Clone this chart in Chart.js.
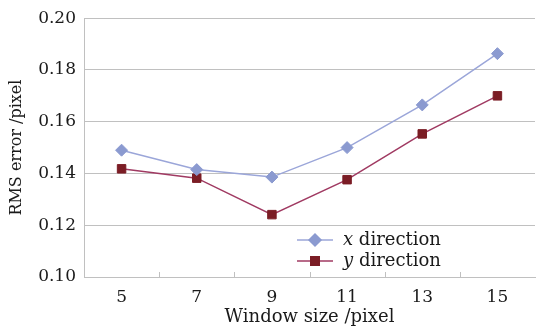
<!DOCTYPE html>
<html>
<head>
<meta charset="utf-8">
<script src="https://cdn.jsdelivr.net/npm/chart.js@4.4.0/dist/chart.umd.min.js"></script>
<style>
  html, body { margin: 0; padding: 0; background: #fff; }
  #wrap { width: 542px; height: 328px; }
</style>
</head>
<body>
<div id="wrap"><canvas id="rmsChart" width="542" height="328"></canvas></div>
<script>
const windowSizes = ['5', '7', '9', '11', '13', '15'];
const xDirection = [0.149, 0.1415, 0.1386, 0.150, 0.1665, 0.1863];
const yDirection = [0.1418, 0.1382, 0.1241, 0.1376, 0.1553, 0.170];
const yTicks = [0.10, 0.12, 0.14, 0.16, 0.18, 0.20];

const serif = '"DejaVu Serif", "Liberation Serif", serif';
const gridColor = '#c0c0c0';
const textColor = '#1a1a1a';

// small tick marks between categories, drawn upward from the x axis
const innerTicks = {
    id: 'innerTicks',
    afterDraw(chart) {
        const xs = chart.scales.x;
        const ctx = chart.ctx;
        const bottom = chart.chartArea.bottom;
        ctx.save();
        ctx.strokeStyle = gridColor;
        ctx.lineWidth = 1;
        for (let i = 0; i < windowSizes.length - 1; i++) {
            const px = Math.round((xs.getPixelForValue(i) + xs.getPixelForValue(i + 1)) / 2) + 0.5;
            ctx.beginPath();
            ctx.moveTo(px, bottom);
            ctx.lineTo(px, bottom - 5);
            ctx.stroke();
        }
        ctx.restore();
    }
};

// legend placed inside the plot, lower middle
const insideLegend = {
    id: 'insideLegend',
    afterDraw(chart) {
        const ctx = chart.ctx;
        const area = chart.chartArea;
        const x0 = area.left + 213;
        const rows = [area.bottom - 37, area.bottom - 16];
        ctx.save();
        chart.data.datasets.forEach((ds, i) => {
            const y = rows[i];
            ctx.strokeStyle = ds.borderColor;
            ctx.lineWidth = 1.5;
            ctx.beginPath();
            ctx.moveTo(x0, y);
            ctx.lineTo(x0 + 36, y);
            ctx.stroke();
            ctx.fillStyle = ds.pointBackgroundColor;
            ctx.strokeStyle = ds.pointBackgroundColor;
            Chart.helpers.drawPoint(ctx, {
                pointStyle: ds.pointStyle,
                radius: ds.pointRadius,
                borderWidth: 1
            }, x0 + 18, y);
            ctx.fillStyle = textColor;
            ctx.textBaseline = 'middle';
            ctx.textAlign = 'left';
            const parts = ds.label.split(' ');
            ctx.font = 'italic 18px ' + serif;
            ctx.fillText(parts[0], x0 + 46, y);
            const w = ctx.measureText(parts[0] + ' ').width;
            ctx.font = '18px ' + serif;
            ctx.fillText(parts.slice(1).join(' '), x0 + 46 + w, y);
        });
        ctx.restore();
    }
};

new Chart(document.getElementById('rmsChart').getContext('2d'), {
    type: 'line',
    data: {
        labels: windowSizes,
        datasets: [
            {
                label: 'x direction',
                data: xDirection,
                borderColor: '#9ba6d9',
                borderWidth: 1.5,
                pointStyle: 'rectRot',
                pointRadius: 6,
                pointHoverRadius: 6,
                pointBackgroundColor: '#8b9ad0',
                pointBorderColor: '#8b9ad0',
                pointBorderWidth: 1,
                tension: 0
            },
            {
                label: 'y direction',
                data: yDirection,
                borderColor: '#a03a62',
                borderWidth: 1.5,
                pointStyle: 'rect',
                pointRadius: 6,
                pointHoverRadius: 6,
                pointBackgroundColor: '#7b1d25',
                pointBorderColor: '#7b1d25',
                pointBorderWidth: 1,
                tension: 0
            }
        ]
    },
    options: {
        responsive: false,
        animation: false,
        layout: { padding: { top: 17, right: 2, left: 0, bottom: 0 } },
        plugins: {
            legend: { display: false },
            tooltip: { enabled: false }
        },
        scales: {
            x: {
                offset: true,
                grid: { display: false },
                border: { display: true, color: gridColor },
                ticks: {
                    color: textColor,
                    font: { family: serif, size: 17 },
                    padding: 2,
                    maxRotation: 0
                },
                title: {
                    display: true,
                    text: 'Window size /pixel',
                    color: textColor,
                    font: { family: serif, size: 18 },
                    padding: { top: 2, bottom: 0 }
                },
                afterFit(scale) { scale.height = 51; }
            },
            y: {
                min: 0.10,
                max: 0.20,
                afterBuildTicks(scale) { scale.ticks = yTicks.map(v => ({ value: v })); },
                grid: { color: gridColor, drawTicks: false, lineWidth: 1 },
                border: { display: true, color: gridColor },
                ticks: {
                    color: textColor,
                    font: { family: serif, size: 17 },
                    padding: 8,
                    callback: v => v.toFixed(2)
                },
                title: {
                    display: true,
                    text: 'RMS error /pixel',
                    color: textColor,
                    font: { family: serif, size: 16 },
                    padding: { top: 7, bottom: 0 }
                },
                afterFit(scale) { scale.width = 84; }
            }
        }
    },
    plugins: [innerTicks, insideLegend]
});
</script>
</body>
</html>
